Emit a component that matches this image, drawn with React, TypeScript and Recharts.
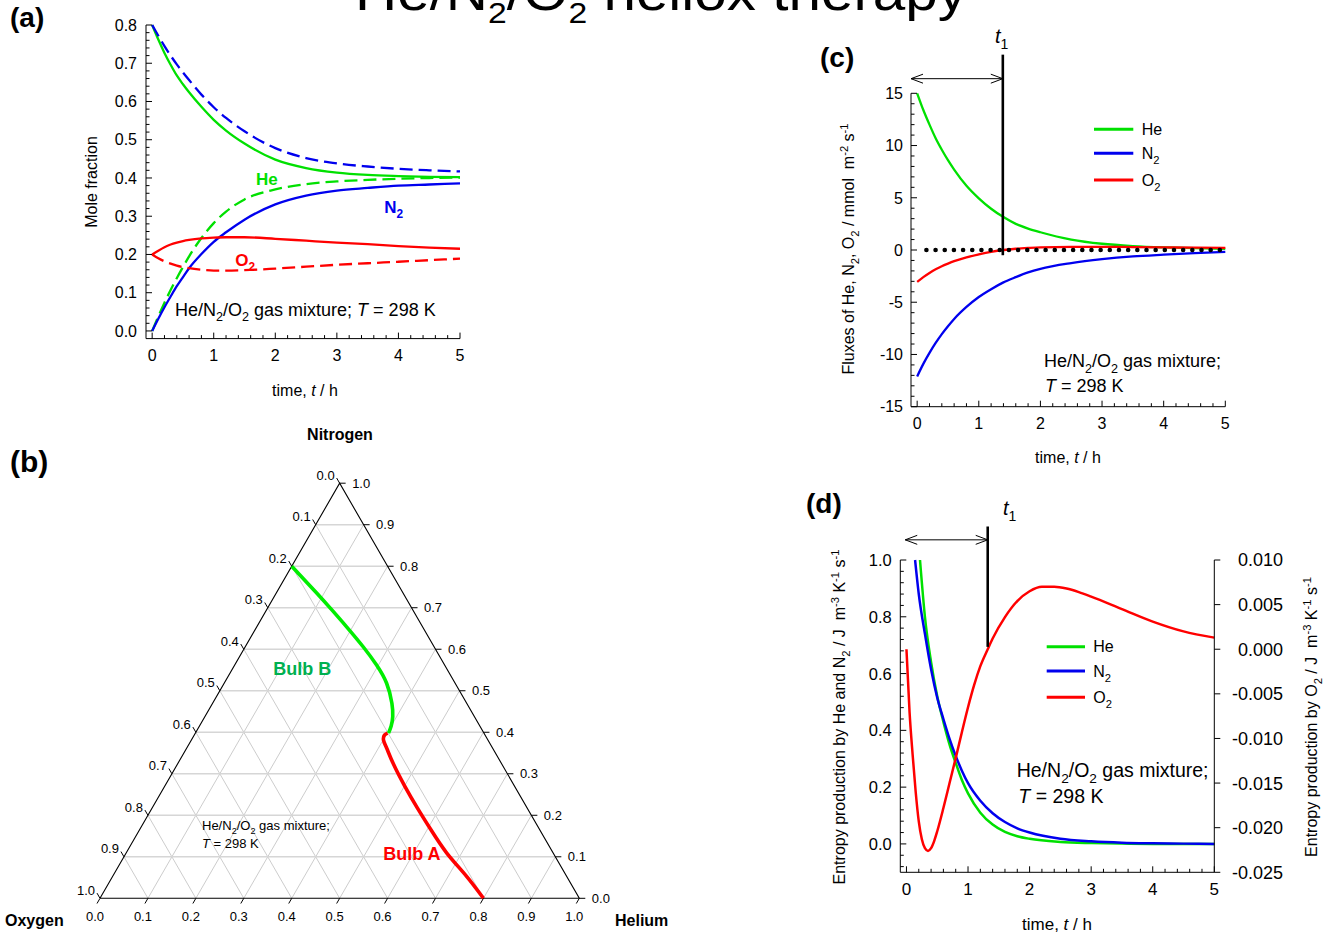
import React from 'react';
import { LineChart, ComposedChart, Line, XAxis, YAxis, ReferenceLine, ReferenceDot, Legend } from 'recharts';

const FONT = "'Liberation Sans', Arial, Helvetica, sans-serif";
const GREEN = '#00e000';
const BLUE = '#0000ee';
const RED = '#ff0000';
const BULB_B_GREEN = '#00b050';

// ---------------- (a) mole fractions vs time ----------------
const A_TIME = [0, 0.1, 0.2, 0.3, 0.4, 0.5, 0.6, 0.8, 1.0, 1.2, 1.5, 2.0, 2.5, 3.0, 3.5, 4.0, 4.5, 5.0];
const A_HE_BULB_A = [0.8, 0.762, 0.727, 0.696, 0.668, 0.645, 0.624, 0.586, 0.552, 0.524, 0.49, 0.448, 0.426, 0.414, 0.408, 0.405, 0.403, 0.402];
const A_HE_BULB_B = [0.0, 0.038, 0.074, 0.107, 0.138, 0.167, 0.195, 0.243, 0.282, 0.312, 0.344, 0.37, 0.384, 0.391, 0.395, 0.398, 0.4, 0.401];
const A_N2_BULB_A = [0.0, 0.032, 0.062, 0.09, 0.117, 0.141, 0.164, 0.201, 0.233, 0.258, 0.291, 0.331, 0.354, 0.367, 0.374, 0.38, 0.383, 0.386];
const A_N2_BULB_B = [0.8, 0.772, 0.745, 0.72, 0.697, 0.676, 0.656, 0.618, 0.585, 0.557, 0.522, 0.478, 0.452, 0.438, 0.43, 0.424, 0.42, 0.417];
const A_O2_BULB_A = [0.2, 0.21, 0.219, 0.226, 0.231, 0.235, 0.238, 0.242, 0.244, 0.245, 0.245, 0.241, 0.236, 0.231, 0.227, 0.222, 0.218, 0.215];
const A_O2_BULB_B = [0.2, 0.19, 0.182, 0.176, 0.171, 0.167, 0.164, 0.16, 0.158, 0.158, 0.159, 0.163, 0.168, 0.173, 0.177, 0.181, 0.185, 0.189];

// ---------------- (c) fluxes ----------------
const C_TIME = [0, 0.1, 0.2, 0.3, 0.4, 0.5, 0.6, 0.8, 1.0, 1.2, 1.4, 1.6, 1.8, 2.0, 2.5, 3.0, 3.5, 4.0, 4.5, 5.0];
const C_HE = [15.0, 13.4, 12.0, 10.7, 9.6, 8.6, 7.7, 6.15, 4.95, 3.95, 3.15, 2.5, 2.05, 1.7, 1.0, 0.6, 0.38, 0.25, 0.17, 0.12];
const C_N2 = [-12.1, -10.9, -9.85, -8.9, -8.05, -7.3, -6.6, -5.45, -4.5, -3.75, -3.1, -2.6, -2.15, -1.8, -1.25, -0.88, -0.62, -0.45, -0.3, -0.18];
const C_O2 = [-3.05, -2.6, -2.2, -1.85, -1.55, -1.3, -1.07, -0.7, -0.42, -0.18, 0.0, 0.12, 0.2, 0.26, 0.3, 0.3, 0.28, 0.25, 0.22, 0.2];
const C_T1 = 1.39;
const C_T1_LINE = [18.7, -0.5];
const C_ARROW = { from: -0.1, y: 16.4 };
const C_ZERO = [0.15, 5];

// ---------------- (d) entropy production ----------------
const D_HE_TIME = [0.22, 0.3, 0.4, 0.5, 0.6, 0.7, 0.8, 0.9, 1.0, 1.2, 1.4, 1.6, 1.8, 2.0, 2.5, 3.0, 3.5, 4.0, 4.5, 5.0];
const D_HE = [1.0, 0.8, 0.64, 0.52, 0.43, 0.35, 0.285, 0.225, 0.178, 0.11, 0.068, 0.042, 0.027, 0.018, 0.007, 0.003, 0.001, 0.0, 0.0, 0.0];
const D_N2_TIME = [0.14, 0.2, 0.3, 0.4, 0.5, 0.6, 0.7, 0.8, 0.9, 1.0, 1.2, 1.4, 1.6, 1.8, 2.0, 2.5, 3.0, 3.5, 4.0, 4.5, 5.0];
const D_N2 = [1.0, 0.88, 0.74, 0.615, 0.515, 0.44, 0.37, 0.31, 0.258, 0.214, 0.152, 0.108, 0.077, 0.055, 0.04, 0.018, 0.009, 0.004, 0.002, 0.001, 0.0];
const D_O2_TIME = [0, 0.05, 0.1, 0.15, 0.2, 0.25, 0.3, 0.35, 0.4, 0.45, 0.5, 0.6, 0.7, 0.8, 0.9, 1.0, 1.1, 1.2, 1.32, 1.4, 1.6, 1.8, 2.0, 2.2, 2.4, 2.6, 2.8, 3.0, 3.5, 4.0, 4.5, 5.0];
const D_O2 = [0.0, -0.007, -0.0118, -0.016, -0.0193, -0.0213, -0.0223, -0.0226, -0.0223, -0.0215, -0.0204, -0.0178, -0.015, -0.0122, -0.0093, -0.0065, -0.004, -0.0019, 0.0, 0.0012, 0.0036, 0.0054, 0.0065, 0.007, 0.007, 0.0068, 0.0064, 0.0059, 0.0045, 0.0031, 0.002, 0.0013];
const D_T1 = 1.32;
const D_T1_LINE = [1.118, 0.694];
const D_ARROW = { from: -0.02, y: 1.071 };

// ---------------- (b) ternary paths (He, N2 mole fractions; O2 = rest) ----------------
const TERN_B_HE = [0.0, 0.085, 0.131, 0.1875, 0.246, 0.296, 0.339, 0.374, 0.392, 0.4, 0.403];
const TERN_B_N2 = [0.8, 0.735, 0.699, 0.654, 0.606, 0.562, 0.518, 0.47, 0.4375, 0.415, 0.398];
const TERN_A_HE = [0.8, 0.737, 0.669, 0.608, 0.553, 0.5, 0.45, 0.417, 0.401, 0.397, 0.401];
const TERN_A_N2 = [0.0, 0.054, 0.109, 0.165, 0.218, 0.271, 0.324, 0.362, 0.381, 0.393, 0.398];
const TERN_TICKS = [0, 0.1, 0.2, 0.3, 0.4, 0.5, 0.6, 0.7, 0.8, 0.9, 1.0];

const range = (a: number, b: number, s: number) => {
  const out: number[] = [];
  const n = Math.round((b - a) / s);
  for (let i = 0; i <= n; i++) out.push(Math.round((a + i * s) * 1e6) / 1e6);
  return out;
};
const A_X_TICKS = range(0, 5, 0.2);
const A_Y_TICKS = range(0, 0.8, 0.02);
const C_X_TICKS = range(0, 5, 0.2);
const C_Y_TICKS = range(-15, 15, 1);
const D_X_TICKS = range(0, 5, 0.2);
const D_YL_TICKS = range(-0.08, 1.0, 0.04);
const D_YR_TICKS = range(-0.025, 0.01, 0.005);

const A_DATA = A_TIME.map((t, i) => ({
  t, heA: A_HE_BULB_A[i], heB: A_HE_BULB_B[i], n2A: A_N2_BULB_A[i], n2B: A_N2_BULB_B[i], o2A: A_O2_BULB_A[i], o2B: A_O2_BULB_B[i],
}));
const C_DATA = C_TIME.map((t, i) => ({ t, he: C_HE[i], n2: C_N2[i], o2: C_O2[i] }));
const D_HE_DATA = D_HE_TIME.map((t, i) => ({ t, v: D_HE[i] }));
const D_N2_DATA = D_N2_TIME.map((t, i) => ({ t, v: D_N2[i] }));
const D_O2_DATA = D_O2_TIME.map((t, i) => ({ t, v: D_O2[i] }));

const SQ3_2 = Math.sqrt(3) / 2;
const toXY = (he: number, n2: number) => ({ x: he + n2 / 2, y: n2 * SQ3_2 });
const TERN_B_DATA = TERN_B_HE.map((h, i) => toXY(h, TERN_B_N2[i]));
const TERN_A_DATA = TERN_A_HE.map((h, i) => toXY(h, TERN_A_N2[i]));
const TERN_EDGE = [toXY(0, 0), toXY(1, 0), toXY(0, 1), toXY(0, 0)];
const TERN_INNER = TERN_TICKS.filter((v) => v > 0 && v < 1);

// ---------------- helpers ----------------
type Seg = [string, string?];
function rich(segs: Seg[], fs: number) {
  let shift = 0;
  return segs.map(([s, k], i) => {
    const target = k === 'sub' ? fs * 0.3 : k === 'sup' ? -fs * 0.38 : 0;
    const dy = target - shift;
    shift = target;
    const small = k === 'sub' || k === 'sup';
    return (
      <tspan key={i} dy={dy !== 0 ? dy : undefined} fontSize={small ? fs * 0.7 : undefined} fontStyle={k === 'i' ? 'italic' : undefined}>
        {s}
      </tspan>
    );
  });
}
const chem = (s: string, fs: number) => {
  const segs: Seg[] = [];
  const m = s.match(/[A-Za-z]+|\d+/g) || [];
  m.forEach((p) => segs.push(/\d/.test(p) ? [p, 'sub'] : [p]));
  return rich(segs, fs);
};

type TickCfg = { side: 'bottom' | 'left' | 'right'; major: number; dec: number; fs: number; gap: number; majorLen: number; minorLen: number };
function makeTick(c: TickCfg) {
  return (props: any) => {
    const { x, y, payload } = props;
    const v = payload.value as number;
    const r = v / c.major;
    const isMajor = Math.abs(r - Math.round(r)) < 1e-6;
    const len = isMajor ? c.majorLen : c.minorLen;
    const lab = isMajor ? v.toFixed(c.dec) : null;
    if (c.side === 'bottom') {
      return (
        <g>
          <line x1={x} y1={y} x2={x} y2={y - len} stroke="#000" strokeWidth={1} />
          {lab !== null && (
            <text x={x} y={y + c.gap} textAnchor="middle" fontSize={c.fs} fill="#000" fontFamily={FONT}>{lab}</text>
          )}
        </g>
      );
    }
    if (c.side === 'left') {
      return (
        <g>
          <line x1={x} y1={y} x2={x + len} y2={y} stroke="#000" strokeWidth={1} />
          {lab !== null && (
            <text x={x - c.gap} y={y + c.fs * 0.36} textAnchor="end" fontSize={c.fs} fill="#000" fontFamily={FONT}>{lab}</text>
          )}
        </g>
      );
    }
    return (
      <g>
        <line x1={x} y1={y} x2={x + len} y2={y} stroke="#000" strokeWidth={1} />
        {lab !== null && (
          <text x={x + c.gap} y={y + c.fs * 0.36} textAnchor="end" fontSize={c.fs} fill="#000" fontFamily={FONT}>{lab}</text>
        )}
      </g>
    );
  };
}

const doubleArrow = (props: any) => {
  const { x1, y1, x2, y2 } = props;
  const h = 12;
  const w = 4.5;
  return (
    <g stroke="#000" fill="none" strokeWidth={1}>
      <line x1={x1} y1={y1} x2={x2} y2={y2} />
      <polyline points={`${x1 + h},${y1 - w} ${x1},${y1} ${x1 + h},${y1 + w}`} />
      <polyline points={`${x2 - h},${y2 - w} ${x2},${y2} ${x2 - h},${y2 + w}`} />
    </g>
  );
};
const t1Line = (props: any) => {
  const { x1, y1, x2, y2 } = props;
  return <line x1={x1} y1={y1} x2={x2} y2={y2} stroke="#000" strokeWidth={2.6} />;
};
const dottedLine = (props: any) => {
  const { x1, y1, x2, y2 } = props;
  return <line x1={x1} y1={y1} x2={x2} y2={y2} stroke="#000" strokeWidth={4.6} strokeDasharray="0 9.17" strokeLinecap="round" />;
};

const legendContent = (rows: number[], x1: number, x2: number, tx: number, fs: number) => (props: any) => {
  const items = (props.payload || []) as any[];
  return (
    <svg width={130} height={80} style={{ overflow: 'visible', display: 'block' }}>
      {items.map((it, i) => (
        <g key={i}>
          <line x1={x1} x2={x2} y1={rows[i]} y2={rows[i]} stroke={it.color} strokeWidth={3} />
          <text x={tx} y={rows[i] + fs * 0.36} fontSize={fs} fontFamily={FONT} fill="#000">{chem(String(it.value), fs)}</text>
        </g>
      ))}
    </svg>
  );
};

// ternary tick shapes
const ternTick = (kind: 'bottom' | 'right' | 'left', label: string) => (props: any) => {
  const { cx, cy } = props;
  if (kind === 'bottom') {
    return (
      <g>
        <line x1={cx} y1={cy} x2={cx - 3} y2={cy + 5.2} stroke="#000" strokeWidth={1} />
        <text x={cx - 5} y={cy + 22.7} textAnchor="middle" fontSize={13} fontFamily={FONT} fill="#000">{label}</text>
      </g>
    );
  }
  if (kind === 'right') {
    return (
      <g>
        <line x1={cx} y1={cy} x2={cx + 6} y2={cy} stroke="#000" strokeWidth={1} />
        <text x={cx + 12.5} y={cy + 4.6} textAnchor="start" fontSize={13} fontFamily={FONT} fill="#000">{label}</text>
      </g>
    );
  }
  return (
    <g>
      <line x1={cx} y1={cy} x2={cx - 3} y2={cy - 5.2} stroke="#000" strokeWidth={1} />
      <text x={cx - 5} y={cy - 3.5} textAnchor="end" fontSize={13} fontFamily={FONT} fill="#000">{label}</text>
    </g>
  );
};

const axisCommon = { tickLine: false, tickSize: 0, tickMargin: 0, interval: 0 as const, axisLine: { stroke: '#000', strokeWidth: 1 } };

export default function App() {
  return (
    <div style={{ position: 'absolute', left: 0, top: 0, width: 1332, height: 936, background: '#fff', fontFamily: FONT, overflow: 'hidden' }}>
      {/* (a) */}
      <div style={{ position: 'absolute', left: 0, top: 0 }}>
        <LineChart width={480} height={420} data={A_DATA} margin={{ top: 25, right: 20, bottom: 80.4, left: 145 }}>
          <XAxis dataKey="t" type="number" domain={[-0.1, 5]} ticks={A_X_TICKS} height={1} {...axisCommon}
            tick={makeTick({ side: 'bottom', major: 1, dec: 0, fs: 16, gap: 22, majorLen: 6, minorLen: 3.5 })} />
          <YAxis type="number" domain={[-0.02, 0.8]} ticks={A_Y_TICKS} width={1} {...axisCommon}
            tick={makeTick({ side: 'left', major: 0.1, dec: 1, fs: 16, gap: 9, majorLen: 6, minorLen: 3.5 })} />
          <Line dataKey="heA" type="monotone" stroke={GREEN} strokeWidth={2.3} dot={false} activeDot={false} isAnimationActive={false} />
          <Line dataKey="heB" type="monotone" stroke={GREEN} strokeWidth={2.3} strokeDasharray="13 6" dot={false} activeDot={false} isAnimationActive={false} />
          <Line dataKey="n2A" type="monotone" stroke={BLUE} strokeWidth={2.3} dot={false} activeDot={false} isAnimationActive={false} />
          <Line dataKey="n2B" type="monotone" stroke={BLUE} strokeWidth={2.3} strokeDasharray="13 6" dot={false} activeDot={false} isAnimationActive={false} />
          <Line dataKey="o2A" type="monotone" stroke={RED} strokeWidth={2.3} dot={false} activeDot={false} isAnimationActive={false} />
          <Line dataKey="o2B" type="monotone" stroke={RED} strokeWidth={2.3} strokeDasharray="13 6" dot={false} activeDot={false} isAnimationActive={false} />
        </LineChart>
      </div>

      {/* (b) ternary */}
      <div style={{ position: 'absolute', left: 0, top: 420 }}>
        <ComposedChart width={680} height={516} margin={{ top: 63.2, right: 100.7, bottom: 37.7, left: 100 }}>
          <XAxis dataKey="x" type="number" domain={[0, 1]} hide height={0} />
          <YAxis dataKey="y" type="number" domain={[0, SQ3_2]} hide width={0} />
          {TERN_INNER.map((v) => (
            <ReferenceLine key={'h' + v} segment={[toXY(v, 0), toXY(v, 1 - v)]} stroke="#c6c6c6" strokeWidth={0.9} ifOverflow="visible" />
          ))}
          {TERN_INNER.map((v) => (
            <ReferenceLine key={'o' + v} segment={[toXY(1 - v, 0), toXY(0, 1 - v)]} stroke="#c6c6c6" strokeWidth={0.9} ifOverflow="visible" />
          ))}
          {TERN_INNER.map((v) => (
            <ReferenceLine key={'n' + v} segment={[toXY(0, v), toXY(1 - v, v)]} stroke="#d6d6d6" strokeWidth={1.5} ifOverflow="visible" />
          ))}
          <Line data={TERN_EDGE} dataKey="y" type="linear" stroke="#000" strokeWidth={1.1} dot={false} activeDot={false} isAnimationActive={false} />
          <Line data={TERN_B_DATA} dataKey="y" type="natural" stroke="#00ee00" strokeWidth={3.6} dot={false} activeDot={false} isAnimationActive={false} />
          <Line data={TERN_A_DATA} dataKey="y" type="natural" stroke={RED} strokeWidth={3.6} dot={false} activeDot={false} isAnimationActive={false} />
          {TERN_TICKS.map((v) => {
            const p = toXY(v, 0);
            return <ReferenceDot key={'tb' + v} x={p.x} y={p.y} r={0} ifOverflow="visible" shape={ternTick('bottom', v.toFixed(1))} />;
          })}
          {TERN_TICKS.map((v) => {
            const p = toXY(1 - v, v);
            return <ReferenceDot key={'tr' + v} x={p.x} y={p.y} r={0} ifOverflow="visible" shape={ternTick('right', v.toFixed(1))} />;
          })}
          {TERN_TICKS.map((v) => {
            const p = toXY(0, 1 - v);
            return <ReferenceDot key={'tl' + v} x={p.x} y={p.y} r={0} ifOverflow="visible" shape={ternTick('left', v.toFixed(1))} />;
          })}
        </ComposedChart>
      </div>

      {/* (c) */}
      <div style={{ position: 'absolute', left: 820, top: 40 }}>
        <LineChart width={440} height={420} data={C_DATA} margin={{ top: 53.3, right: 34.7, bottom: 52.3, left: 90 }}>
          <XAxis dataKey="t" type="number" domain={[-0.1, 5]} ticks={C_X_TICKS} height={1} {...axisCommon}
            tick={makeTick({ side: 'bottom', major: 1, dec: 0, fs: 16, gap: 22, majorLen: 6, minorLen: 3.5 })} />
          <YAxis type="number" domain={[-15, 15]} ticks={C_Y_TICKS} width={1} {...axisCommon}
            tick={makeTick({ side: 'left', major: 5, dec: 0, fs: 16, gap: 8, majorLen: 6, minorLen: 3.5 })} />
          <Line name="He" dataKey="he" type="monotone" stroke={GREEN} strokeWidth={2.3} dot={false} activeDot={false} isAnimationActive={false} />
          <Line name="N2" dataKey="n2" type="monotone" stroke={BLUE} strokeWidth={2.3} dot={false} activeDot={false} isAnimationActive={false} />
          <Line name="O2" dataKey="o2" type="monotone" stroke={RED} strokeWidth={2.3} dot={false} activeDot={false} isAnimationActive={false} />
          <ReferenceLine segment={[{ x: C_ZERO[0], y: 0 }, { x: C_ZERO[1], y: 0 }]} ifOverflow="visible" shape={dottedLine} />
          <ReferenceLine segment={[{ x: C_T1, y: C_T1_LINE[0] }, { x: C_T1, y: C_T1_LINE[1] }]} ifOverflow="visible" shape={t1Line} />
          <ReferenceLine segment={[{ x: C_ARROW.from, y: C_ARROW.y }, { x: C_T1, y: C_ARROW.y }]} ifOverflow="visible" shape={doubleArrow} />
          <Legend layout="vertical" align="center" verticalAlign="middle"
            wrapperStyle={{ left: 270, top: 78, width: 130, height: 80 }}
            content={legendContent([11.3, 35.3, 62], 4, 43.3, 51.7, 16)} />
        </LineChart>
      </div>

      {/* (d) */}
      <div style={{ position: 'absolute', left: 820, top: 480 }}>
        <LineChart width={512} height={456} margin={{ top: 80, right: 116.7, bottom: 62.7, left: 79.3 }}>
          <XAxis dataKey="t" type="number" domain={[-0.1, 5]} ticks={D_X_TICKS} height={1} {...axisCommon}
            tick={makeTick({ side: 'bottom', major: 1, dec: 0, fs: 17, gap: 23, majorLen: 6, minorLen: 3.5 })} />
          <YAxis yAxisId="left" type="number" domain={[-0.1, 1.0]} ticks={D_YL_TICKS} width={1} {...axisCommon}
            tick={makeTick({ side: 'left', major: 0.2, dec: 1, fs: 16.5, gap: 8.6, majorLen: 6, minorLen: 3.5 })} />
          <YAxis yAxisId="right" orientation="right" type="number" domain={[-0.025, 0.01]} ticks={D_YR_TICKS} width={1} {...axisCommon}
            tick={makeTick({ side: 'right', major: 0.005, dec: 3, fs: 18, gap: 68.7, majorLen: 6, minorLen: 6 })} />
          <Line name="He" yAxisId="left" data={D_HE_DATA} dataKey="v" type="monotone" stroke={GREEN} strokeWidth={2.5} dot={false} activeDot={false} isAnimationActive={false} />
          <Line name="N2" yAxisId="left" data={D_N2_DATA} dataKey="v" type="monotone" stroke={BLUE} strokeWidth={2.5} dot={false} activeDot={false} isAnimationActive={false} />
          <Line name="O2" yAxisId="right" data={D_O2_DATA} dataKey="v" type="monotone" stroke={RED} strokeWidth={2.5} dot={false} activeDot={false} isAnimationActive={false} />
          <ReferenceLine yAxisId="left" segment={[{ x: D_T1, y: D_T1_LINE[0] }, { x: D_T1, y: D_T1_LINE[1] }]} ifOverflow="visible" shape={t1Line} />
          <ReferenceLine yAxisId="left" segment={[{ x: D_ARROW.from, y: D_ARROW.y }, { x: D_T1, y: D_ARROW.y }]} ifOverflow="visible" shape={doubleArrow} />
          <Legend layout="vertical" align="center" verticalAlign="middle"
            wrapperStyle={{ left: 220, top: 155, width: 130, height: 80 }}
            content={legendContent([11.7, 36, 62.3], 6.7, 45, 53.3, 16)} />
        </LineChart>
      </div>

      {/* text overlay */}
      <svg width={1332} height={936} style={{ position: 'absolute', left: 0, top: 0, pointerEvents: 'none' }} fontFamily={FONT}>
        <text x={355} y={9.5} fontSize={52} textLength={612} lengthAdjust="spacingAndGlyphs">
          He/N<tspan dy={13} fontSize={30}>2</tspan><tspan dy={-13}>/O</tspan><tspan dy={13} fontSize={30}>2</tspan><tspan dy={-13}> heliox therapy</tspan>
        </text>

        <text x={10} y={27} fontSize={28} fontWeight="bold">(a)</text>
        <text x={10} y={472} fontSize={30} fontWeight="bold">(b)</text>
        <text x={820} y={67} fontSize={28} fontWeight="bold">(c)</text>
        <text x={806} y={513} fontSize={28} fontWeight="bold">(d)</text>

        {/* (a) texts */}
        <text transform="translate(97,182) rotate(-90)" textAnchor="middle" fontSize={16}>Mole fraction</text>
        <text x={305} y={396} textAnchor="middle" fontSize={16}>{rich([['time, '], ['t', 'i'], [' / h']], 16)}</text>
        <text x={175} y={316} fontSize={18}>{rich([['He/N'], ['2', 'sub'], ['/O'], ['2', 'sub'], [' gas mixture; '], ['T', 'i'], [' = 298 K']], 18)}</text>
        <text x={256} y={185} fontSize={17} fontWeight="bold" fill={GREEN}>He</text>
        <text x={384.3} y={212.7} fontSize={17} fontWeight="bold" fill={BLUE}>{chem('N2', 17)}</text>
        <text x={235.3} y={265.7} fontSize={17} fontWeight="bold" fill={RED}>{chem('O2', 17)}</text>

        {/* (b) texts */}
        <text x={340} y={440} textAnchor="middle" fontSize={16} fontWeight="bold">Nitrogen</text>
        <text x={5} y={926} fontSize={16} fontWeight="bold">Oxygen</text>
        <text x={615} y={926} fontSize={16} fontWeight="bold">Helium</text>
        <text x={273.3} y={675} fontSize={18} fontWeight="bold" fill={BULB_B_GREEN}>Bulb B</text>
        <text x={383.3} y={860} fontSize={18} fontWeight="bold" fill={RED}>Bulb A</text>
        <text x={202} y={830} fontSize={13}>{rich([['He/N'], ['2', 'sub'], ['/O'], ['2', 'sub'], [' gas mixture;']], 13)}</text>
        <text x={202} y={848.3} fontSize={13}>{rich([['T', 'i'], [' = 298 K']], 13)}</text>

        {/* (c) texts */}
        <text transform="translate(854,249) rotate(-90)" textAnchor="middle" fontSize={16}>
          {rich([['Fluxes of He, N'], ['2', 'sub'], [', O'], ['2', 'sub'], [' / mmol\u00a0 m'], ['-2', 'sup'], [' s'], ['-1', 'sup']], 16)}
        </text>
        <text x={1068} y={463} textAnchor="middle" fontSize={16}>{rich([['time, '], ['t', 'i'], [' / h']], 16)}</text>
        <text x={1044} y={367.3} fontSize={18}>{rich([['He/N'], ['2', 'sub'], ['/O'], ['2', 'sub'], [' gas mixture;']], 18)}</text>
        <text x={1045} y={392.3} fontSize={18}>{rich([['T', 'i'], [' = 298 K']], 18)}</text>
        <text x={995} y={43.3} fontSize={20}>{rich([['t', 'i'], ['1', 'sub']], 20)}</text>

        {/* (d) texts */}
        <text transform="translate(845,717) rotate(-90)" textAnchor="middle" fontSize={16}>
          {rich([['Entropy production by He and N'], ['2', 'sub'], [' / J\u00a0 m'], ['-3', 'sup'], [' K'], ['-1', 'sup'], [' s'], ['-1', 'sup']], 16)}
        </text>
        <text transform="translate(1316.7,717) rotate(-90)" textAnchor="middle" fontSize={16}>
          {rich([['Entropy production by O'], ['2', 'sub'], [' / J\u00a0 m'], ['-3', 'sup'], [' K'], ['-1', 'sup'], [' s'], ['-1', 'sup']], 16)}
        </text>
        <text x={1057} y={930} textAnchor="middle" fontSize={17}>{rich([['time, '], ['t', 'i'], [' / h']], 17)}</text>
        <text x={1016.7} y={776.7} fontSize={19.5}>{rich([['He/N'], ['2', 'sub'], ['/O'], ['2', 'sub'], [' gas mixture;']], 19.5)}</text>
        <text x={1018.3} y={803.3} fontSize={19.5}>{rich([['T', 'i'], [' = 298 K']], 19.5)}</text>
        <text x={1003} y={515} fontSize={20}>{rich([['t', 'i'], ['1', 'sub']], 20)}</text>
      </svg>
    </div>
  );
}
